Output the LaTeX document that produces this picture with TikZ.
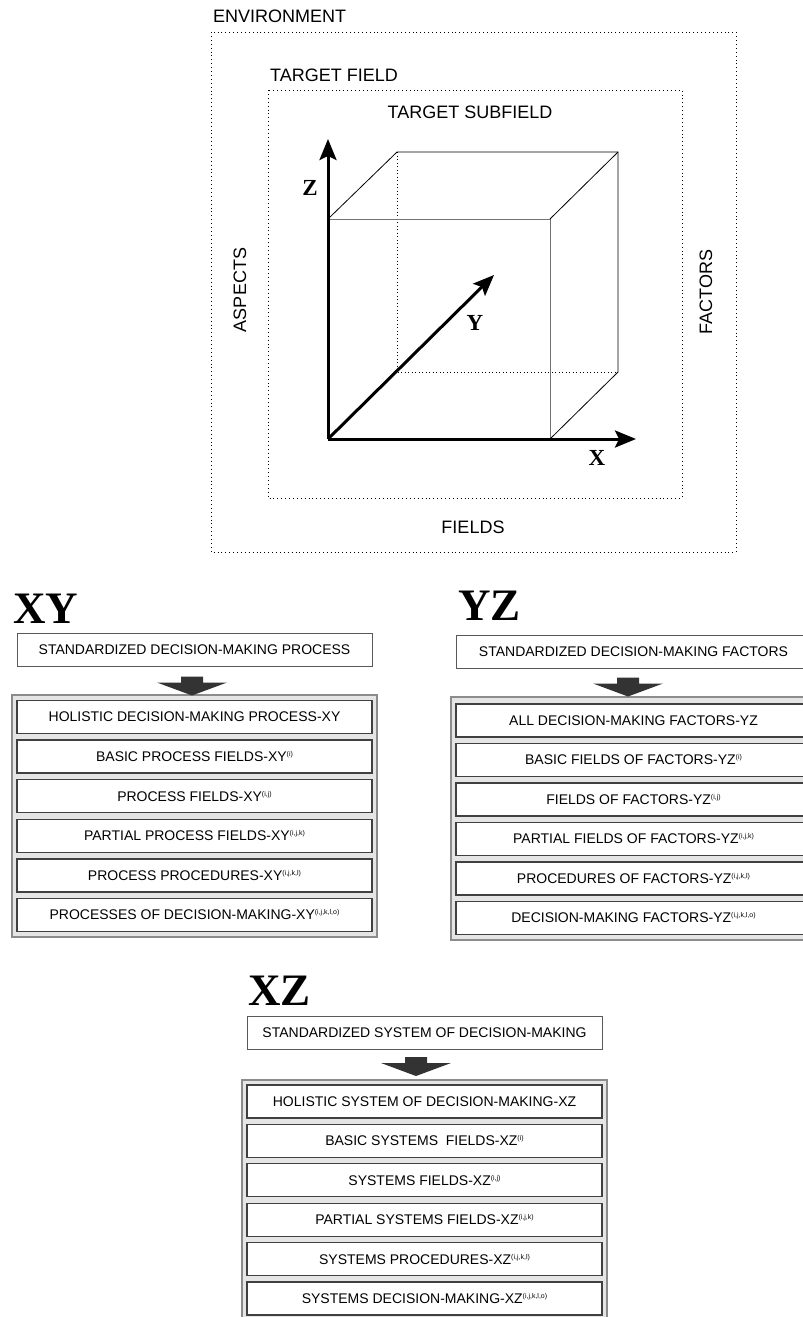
\documentclass[tikz,border=0pt]{standalone}
\usepackage{fontspec}
\setmainfont{Liberation Sans}
\newfontfamily\axisfont{Liberation Serif}
\usetikzlibrary{arrows.meta}

\tikzset{
  hidden/.style={line width=0.9pt, dash pattern=on 0.9pt off 2.6pt},
  areabox/.style={line width=0.9pt, dash pattern=on 0.9pt off 3pt},
  axisline/.style={line width=3pt, -{Stealth[length=21pt,width=17pt,inset=4pt]}},
  edgeline/.style={line width=0.8pt},
  greyline/.style={line width=1pt, black!55},
  lbl/.style={font=\fontsize{18}{18}\selectfont, inner sep=0pt},
  axlbl/.style={font=\axisfont\bfseries\fontsize{23}{23}\selectfont, inner sep=0pt},
  head/.style={font=\axisfont\bfseries\fontsize{45}{45}\selectfont, inner sep=0pt, anchor=base west},
  stdbox/.style={draw=black!65, line width=1pt, fill=white, minimum width=355pt, minimum height=33pt, font=\fontsize{14}{14}\selectfont, inner sep=0pt},
  rowbox/.style={draw=black!75, line width=1.3pt, fill=white, minimum width=355pt, minimum height=33pt, font=\fontsize{14}{14}\selectfont, inner sep=0pt},
  panel/.style={draw=black!45, line width=1.6pt, fill=black!10, minimum width=365pt, inner sep=0pt},
  downarrow/.pic={
    \fill[black!80] (-11,0) -- (11,0) -- (11,6) -- (35,6) -- (0,19) -- (-35,6) -- (-11,6) -- cycle;
  }
}
\newcommand{\idx}[1]{\raisebox{5pt}{\fontsize{7}{7}\selectfont(#1)}}

\begin{document}
\begin{tikzpicture}[line cap=butt,line join=miter,x=1pt,y=-1pt]
  \useasboundingbox (0,0) rectangle (803,1317);

  % areas round the cube
  \draw[areabox] (211,32) rectangle (736,552);
  \draw[areabox] (268,90) rectangle (682,498);
  \node[lbl,anchor=west] (env) at (213,16) {ENVIRONMENT};
  \node[lbl,anchor=west] (tf) at (270,75) {TARGET FIELD};
  \node[lbl] (tsf) at (470,112) {TARGET SUBFIELD};
  \node[lbl,rotate=90] (asp) at (240,290) {ASPECTS};
  \node[lbl,rotate=90] (fac) at (706,292) {FACTORS};
  \node[lbl] (fld) at (473,527) {FIELDS};

  % cube
  \coordinate (O) at (328,439);
  \coordinate (Xt) at (636,439);
  \coordinate (Zt) at (328,139);
  \coordinate (Yt) at (494,275);
  \coordinate (A) at (328,219);
  \coordinate (B) at (550,219);
  \coordinate (C) at (550,439);
  \coordinate (D) at (397,152);
  \coordinate (E) at (618,152);
  \coordinate (F) at (618,372);
  \coordinate (G) at (397,372);
  \draw[hidden] (D) -- (G) -- (F);
  \draw[greyline] (A) -- (B) -- (C);
  \draw[edgeline] (A) -- (D) -- (E) -- (F) -- (C);
  \draw[edgeline] (B) -- (E);
  \draw[axisline] (O) -- (Yt);
  \draw[axisline] (O) -- (Zt);
  \draw[axisline] (O) -- (Xt);
  \node[axlbl] (zl) at (310,188) {Z};
  \node[axlbl] (yl) at (475,323) {Y};
  \node[axlbl] (xl) at (597,458) {X};

  % XY
  \node[head] (hxy) at (13,623) {XY};
  \node[stdbox] (sxy) at (194.5,649.5) {STANDARDIZED DECISION-MAKING PROCESS};
  \node[panel,minimum height=242pt] (pxy) at (194.5,816) {};
  \pic at ([xshift=-2.5pt,yshift=-10pt]sxy.south) {downarrow};
  \node[rowbox] (xy1) at (194.5,717) {HOLISTIC DECISION-MAKING PROCESS-XY};
  \node[rowbox] (xy2) at (194.5,756.6) {BASIC PROCESS FIELDS-XY\idx{i}};
  \node[rowbox] (xy3) at (194.5,796.2) {PROCESS FIELDS-XY\idx{i,j}};
  \node[rowbox] (xy4) at (194.5,835.8) {PARTIAL PROCESS FIELDS-XY\idx{i,j,k}};
  \node[rowbox] (xy5) at (194.5,875.4) {PROCESS PROCEDURES-XY\idx{i,j,k,l}};
  \node[rowbox] (xy6) at (194.5,915) {PROCESSES OF DECISION-MAKING-XY\idx{i,j,k,l,o}};

  % YZ
  \node[head] (hyz) at (458,620) {YZ};
  \node[stdbox] (syz) at (633.5,651.5) {STANDARDIZED DECISION-MAKING FACTORS};
  \node[panel,minimum height=243pt] (pyz) at (633.5,818.5) {};
  \pic at ([xshift=-5.5pt,yshift=-9pt]syz.south) {downarrow};
  \node[rowbox] (yz1) at (633.5,720.5) {ALL DECISION-MAKING FACTORS-YZ};
  \node[rowbox] (yz2) at (633.5,760) {BASIC FIELDS OF FACTORS-YZ\idx{i}};
  \node[rowbox] (yz3) at (633.5,799.5) {FIELDS OF FACTORS-YZ\idx{i,j}};
  \node[rowbox] (yz4) at (633.5,839) {PARTIAL FIELDS OF FACTORS-YZ\idx{i,j,k}};
  \node[rowbox] (yz5) at (633.5,878.5) {PROCEDURES OF FACTORS-YZ\idx{i,j,k,l}};
  \node[rowbox] (yz6) at (633.5,918) {DECISION-MAKING FACTORS-YZ\idx{i,j,k,l,o}};

  % XZ
  \node[head] (hxz) at (248,1005) {XZ};
  \node[stdbox] (sxz) at (424.5,1033) {STANDARDIZED SYSTEM OF DECISION-MAKING};
  \node[panel,minimum height=240pt] (pxz) at (424.5,1200) {};
  \pic at ([xshift=-8.5pt,yshift=-7pt]sxz.south) {downarrow};
  \node[rowbox] (xz1) at (424.5,1101.5) {HOLISTIC SYSTEM OF DECISION-MAKING-XZ};
  \node[rowbox] (xz2) at (424.5,1140.9) {BASIC SYSTEMS~ FIELDS-XZ\idx{i}};
  \node[rowbox] (xz3) at (424.5,1180.3) {SYSTEMS FIELDS-XZ\idx{i,j}};
  \node[rowbox] (xz4) at (424.5,1219.7) {PARTIAL SYSTEMS FIELDS-XZ\idx{i,j,k}};
  \node[rowbox] (xz5) at (424.5,1259.1) {SYSTEMS PROCEDURES-XZ\idx{i,j,k,l}};
  \node[rowbox] (xz6) at (424.5,1298.5) {SYSTEMS DECISION-MAKING-XZ\idx{i,j,k,l,o}};
\end{tikzpicture}
\end{document}
